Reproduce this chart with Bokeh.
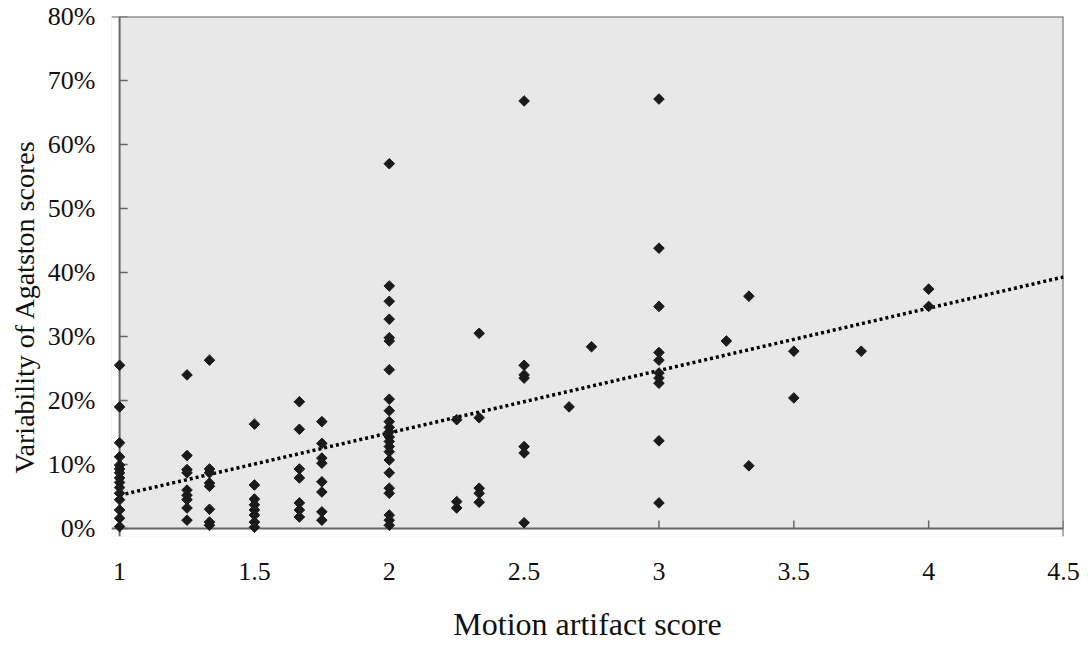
from bokeh.plotting import figure
from bokeh.models import FixedTicker, PrintfTickFormatter, Range1d, BoxAnnotation, Span, Title
from bokeh.embed import file_html
from bokeh.resources import INLINE

# Motion artifact score (x) and variability of Agatston scores in % (y)
motion_score = (
    [1.0] * 15 + [1.25] * 9 + [4 / 3] * 8 + [1.5] * 8 + [5 / 3] * 7 + [1.75] * 8
    + [2.0] * 23 + [2.25] * 3 + [7 / 3] * 5 + [2.5] * 7 + [8 / 3] + [2.75]
    + [3.0] * 10 + [3.25] + [10 / 3] * 2 + [3.5] * 2 + [3.75] + [4.0] * 2
)
variability = [
    25.5, 19.0, 13.4, 11.2, 9.9, 9.3, 8.7, 7.9, 7.2, 6.4, 5.5, 4.5, 2.9, 1.6, 0.3,
    24.0, 11.4, 9.2, 8.7, 6.0, 5.2, 4.5, 3.2, 1.3,
    26.3, 9.3, 8.7, 7.1, 6.6, 3.0, 1.0, 0.5,
    16.3, 6.8, 4.6, 3.7, 2.9, 2.1, 1.0, 0.2,
    19.8, 15.5, 9.3, 7.9, 4.0, 2.9, 1.8,
    16.7, 13.3, 11.0, 10.2, 7.3, 5.7, 2.6, 1.3,
    57.0, 37.9, 35.5, 32.7, 29.8, 29.3, 24.8, 20.2, 18.4, 16.7, 15.8, 15.1, 14.3,
    13.6, 12.8, 12.0, 10.7, 8.7, 6.3, 5.5, 2.1, 1.3, 0.5,
    17.0, 4.2, 3.2,
    30.5, 17.3, 6.3, 5.5, 4.1,
    66.8, 25.5, 24.0, 23.5, 12.8, 11.8, 0.9,
    19.0,
    28.4,
    67.1, 43.8, 34.7, 27.5, 26.3, 24.3, 23.5, 22.7, 13.7, 4.0,
    29.3,
    36.3, 9.8,
    27.7, 20.4,
    27.7,
    37.4, 34.7,
]

# Linear trend line endpoints
trend_x = [1.0, 4.5]
trend_y = [5.2, 39.3]

x_min, x_max = 1.0, 4.5
y_min, y_max = 0, 80
x_ticks = [1, 1.5, 2, 2.5, 3, 3.5, 4, 4.5]
x_tick_labels = ["1", "1.5", "2", "2.5", "3", "3.5", "4", "4.5"]
y_ticks = [0, 10, 20, 30, 40, 50, 60, 70, 80]
x_title = "Motion artifact score"
y_title = "Variability of Agatston scores"

FONT = "Liberation Serif"
AXIS_COLOR = "#666666"
X_PAD, Y_PAD = 0.03, 1.25          # padding so markers on the axes are not clipped
X_TICK_LEN, Y_TICK_LEN = 0.03, 1.25

p = figure(
    width=1083, height=651,
    x_range=Range1d(x_min - X_PAD, x_max), y_range=Range1d(y_min - Y_PAD, y_max),
    output_backend="svg", toolbar_location=None,
    min_border_left=111, min_border_right=20, min_border_top=16, min_border_bottom=115,
)
p.background_fill_color = "#e8e8e8"
p.border_fill_color = "white"
p.outline_line_color = None
p.grid.visible = False

# white strips outside the axes (under the markers)
p.add_layout(BoxAnnotation(right=x_min, fill_color="white", fill_alpha=1,
                           line_color=None, level="underlay"))
p.add_layout(BoxAnnotation(top=y_min, fill_color="white", fill_alpha=1,
                           line_color=None, level="underlay"))
# axis lines and frame lines
for loc, dim in ((x_min, "height"), (y_min, "width"), (x_max, "height"), (y_max, "width")):
    p.add_layout(Span(location=loc, dimension=dim, line_color=AXIS_COLOR,
                      line_width=2, level="underlay"))

# inward tick marks
p.segment(x0=[x_min] * len(y_ticks), y0=y_ticks,
          x1=[x_min + X_TICK_LEN] * len(y_ticks), y1=y_ticks,
          line_color=AXIS_COLOR, line_width=1.5)
p.segment(x0=x_ticks, y0=[y_min] * len(x_ticks),
          x1=x_ticks, y1=[y_min + Y_TICK_LEN] * len(x_ticks),
          line_color=AXIS_COLOR, line_width=1.5)

p.line(trend_x, trend_y, line_color="black", line_width=3.5, line_dash="3 3")
p.scatter(motion_score, variability, marker="square", angle=0.7853981634, size=7.5,
          fill_color="#1a1a1a", line_color="#1a1a1a", line_width=1)

p.xaxis.ticker = FixedTicker(ticks=x_ticks)
p.xaxis.major_label_overrides = {t: l for t, l in zip(x_ticks, x_tick_labels)}
p.yaxis.ticker = FixedTicker(ticks=y_ticks)
p.yaxis.formatter = PrintfTickFormatter(format="%d%%")

for ax in (p.xaxis, p.yaxis):
    ax.axis_line_color = None
    ax.major_tick_line_color = None
    ax.minor_tick_line_color = None
    ax.major_tick_in = 0
    ax.major_tick_out = 0
    ax.major_label_text_font = FONT
    ax.major_label_text_font_size = "26px"
    ax.major_label_text_color = "#111111"
    ax.axis_label_text_font = FONT
    ax.axis_label_text_font_style = "normal"
    ax.axis_label_text_color = "#111111"

p.xaxis.axis_label_text_font_size = "32px"
p.xaxis.axis_label = x_title
p.xaxis.major_label_standoff = 26
p.xaxis.axis_label_standoff = 23
p.yaxis.major_label_standoff = 16

# y title on the left, starting a little above the bottom like the original
p.add_layout(Title(text=y_title, align="left", offset=63, standoff=10,
                   text_font=FONT, text_font_size="28px", text_font_style="normal",
                   text_color="#111111"), "left")

open("out.html", "w").write(file_html(p, INLINE))
